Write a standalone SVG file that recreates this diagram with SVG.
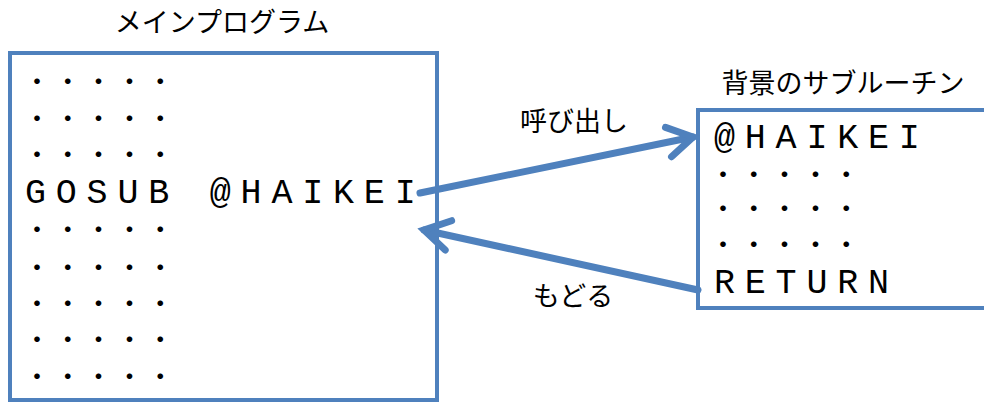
<svg xmlns="http://www.w3.org/2000/svg" width="984" height="403" viewBox="0 0 984 403">
<defs>
<style>
.box{fill:#fff;stroke:#4F81BD;stroke-width:4;}
.code{font-family:"Liberation Mono",monospace;font-size:35px;letter-spacing:9.8px;fill:#000;}
.dots{font-family:"Noto Sans CJK JP",sans-serif;font-size:22px;letter-spacing:8.8px;font-weight:bold;fill:#000;}
.lbl{font-family:"Noto Sans CJK JP",sans-serif;font-size:27px;fill:#000;text-anchor:middle;}
.conn{stroke:#4F81BD;stroke-width:7;fill:none;stroke-linecap:round;}
</style>
<marker id="arr" markerUnits="userSpaceOnUse" markerWidth="40" markerHeight="40" viewBox="0 0 40 40" refX="32" refY="20" orient="auto" overflow="visible">
<path d="M7,5 L32,20 L7,35" fill="none" stroke="#4F81BD" stroke-width="7" stroke-linecap="round" stroke-linejoin="miter"/>
</marker>
</defs>
<rect width="984" height="403" fill="#fff"/>
<g id="main">
<text class="lbl" x="222" y="32" font-size="26">メインプログラム</text>
<rect class="box" x="10" y="53" width="427" height="347"/>
<text class="dots" x="26" y="89">・・・・・</text>
<text class="dots" x="26" y="126">・・・・・</text>
<text class="dots" x="26" y="162">・・・・・</text>
<text class="code" x="25" y="203">GOSUB @HAIKEI</text>
<text class="dots" x="26" y="237">・・・・・</text>
<text class="dots" x="26" y="275">・・・・・</text>
<text class="dots" x="26" y="311">・・・・・</text>
<text class="dots" x="26" y="347">・・・・・</text>
<text class="dots" x="26" y="384">・・・・・</text>
</g>
<g id="sub">
<text class="lbl" x="843" y="93" font-size="29">背景のサブルーチン</text>
<rect class="box" x="698" y="110" width="300" height="198"/>
<text class="code" x="714" y="148">@HAIKEI</text>
<text class="dots" x="712" y="182">・・・・・</text>
<text class="dots" x="712" y="216">・・・・・</text>
<text class="dots" x="712" y="252">・・・・・</text>
<text class="code" x="714" y="293">RETURN</text>
</g>
<g id="connectors">
<line class="conn" x1="420" y1="193" x2="693" y2="137" marker-end="url(#arr)"/>
<line class="conn" x1="698" y1="290" x2="424" y2="230" marker-end="url(#arr)"/>
<text class="lbl" x="574" y="131">呼び出し</text>
<text class="lbl" x="573" y="306">もどる</text>
</g>
</svg>
